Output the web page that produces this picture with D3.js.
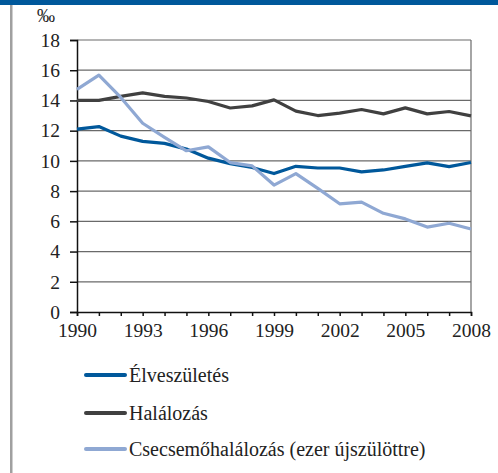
<!DOCTYPE html>
<html>
<head>
<meta charset="utf-8">
<script src="https://cdn.jsdelivr.net/npm/d3@7"></script>
<style>
body { margin: 0; background: #fff; }
</style>
</head>
<body>
<svg id="chart"></svg>
<script>
// evek es adatok (ezrelek)
let years = d3.range(1990, 2009);
let birth = [12.1, 12.27, 11.64, 11.29, 11.16, 10.78, 10.18, 9.82, 9.56, 9.16, 9.64, 9.53, 9.53, 9.27, 9.4, 9.64, 9.87, 9.62, 9.89];
let death = [14.0, 14.0, 14.27, 14.5, 14.27, 14.16, 13.93, 13.5, 13.64, 14.04, 13.29, 13.0, 13.16, 13.4, 13.11, 13.51, 13.11, 13.27, 12.98];
let infant = [14.73, 15.67, 14.2, 12.49, 11.56, 10.67, 10.93, 9.89, 9.67, 8.4, 9.16, 8.18, 7.16, 7.27, 6.53, 6.16, 5.62, 5.87, 5.49];
let yTicks = [0, 2, 4, 6, 8, 10, 12, 14, 16, 18];
let xTicks = [1990, 1993, 1996, 1999, 2002, 2005, 2008];
let seriesNames = ["Élveszületés", "Halálozás", "Csecsemőhalálozás (ezer újszülöttre)"];
let seriesColors = ["#00589b", "#404040", "#8fa8d3"];

let width = 498, height = 473;
let plotLeft = 77, plotRight = 471, plotTop = 40, plotBottom = 312;
let fontFam = "'Liberation Serif', 'Times New Roman', serif";

let svg = d3.select("#chart").attr("width", width).attr("height", height);

// keret: felso kek csik, bal szurke csik
svg.append("rect").attr("x", 0).attr("y", 0).attr("width", width).attr("height", 5).attr("fill", "#00589b");
svg.append("rect").attr("x", 10).attr("y", 5).attr("width", 2.5).attr("height", height - 5).attr("fill", "#a0a0a0");

let scaleX = d3.scaleLinear().domain([1990, 2008]).range([plotLeft, plotRight]);
let scaleY = d3.scaleLinear().domain([0, 18]).range([plotBottom, plotTop]);

// racsvonalak
svg.append("g")
    .selectAll("line")
    .data(yTicks.filter(d => d > 0))
    .enter().append("line")
    .attr("x1", plotLeft).attr("x2", plotRight)
    .attr("y1", d => scaleY(d)).attr("y2", d => scaleY(d))
    .attr("stroke", "#6a6a6a").attr("stroke-width", 1.2);
svg.append("line")
    .attr("x1", plotRight).attr("x2", plotRight)
    .attr("y1", plotTop).attr("y2", plotBottom)
    .attr("stroke", "#6a6a6a").attr("stroke-width", 1.2);

// tengelyek
let axisY = d3.axisLeft(scaleY).tickValues(yTicks).tickSize(7).tickPadding(10).tickFormat(d3.format("d"));
let gy = svg.append("g").attr("transform", `translate(${plotLeft},0)`).call(axisY);
gy.select(".domain").attr("stroke", "#111").attr("stroke-width", 1.5);
gy.selectAll(".tick line").attr("stroke", "#111").attr("stroke-width", 1.5);
gy.selectAll("text").style("font-family", fontFam).style("font-size", "19.5px").style("fill", "#222");

let axisX = d3.axisBottom(scaleX).tickValues(years).tickSize(4).tickFormat(d => xTicks.includes(d) ? d : "");
let gx = svg.append("g").attr("transform", `translate(0,${plotBottom})`).call(axisX);
gx.select(".domain").attr("stroke", "#111").attr("stroke-width", 1.5);
gx.selectAll(".tick line").attr("stroke", "#111").attr("stroke-width", 1.5);
gx.selectAll("text").style("font-family", fontFam).style("font-size", "19.5px").style("fill", "#222").attr("dy", "0.9em");

svg.append("text").attr("x", 37).attr("y", 22)
    .style("font-family", fontFam).style("font-size", "18px").style("fill", "#222").text("‰");

// vonalak
let allSeries = [birth, death, infant];
let line = d3.line().x((d, i) => scaleX(years[i])).y(d => scaleY(d));
[1, 0, 2].forEach(k => {
    svg.append("path")
        .datum(allSeries[k])
        .attr("d", line)
        .attr("fill", "none")
        .attr("stroke", seriesColors[k])
        .attr("stroke-width", 3.2)
        .attr("stroke-linejoin", "round");
});

// jelmagyarazat
let legendY = [375, 413, 449];
let lg = svg.append("g").selectAll("g").data(seriesNames).enter().append("g")
    .attr("transform", (d, i) => `translate(86,${legendY[i]})`);
lg.append("line").attr("x1", 0).attr("x2", 39).attr("y1", 0).attr("y2", 0)
    .attr("stroke", (d, i) => seriesColors[i]).attr("stroke-width", 4).attr("stroke-linecap", "round");
lg.append("text").attr("x", 43).attr("y", 7)
    .style("font-family", fontFam).style("font-size", "20px").style("fill", "#222").text(d => d);
</script>
</body>
</html>
